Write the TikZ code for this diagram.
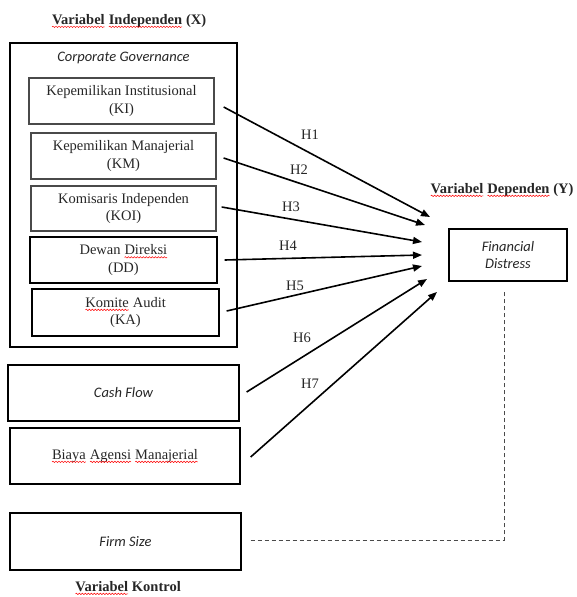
\documentclass[tikz,border=0pt]{standalone}
\usepackage{fontspec}
\setmainfont{Liberation Serif}
\newfontfamily\carl{Carlito}
\usetikzlibrary{arrows.meta,decorations.pathmorphing}
\definecolor{txt}{HTML}{262626}
\definecolor{gbord}{HTML}{4A4A4A}
\newcommand\wav[1]{\tikz[baseline=(wv.base)]{\node[shape=rectangle,draw=none,fill=none,inner sep=0pt,outer sep=0pt,minimum width=0pt,minimum height=0pt](wv){#1};\draw[red,line width=0.5pt,decorate,decoration={snake,amplitude=0.7pt,segment length=3pt}]([yshift=-2.6pt]wv.base west)--([yshift=-2.6pt]wv.base east);}}
\begin{document}
\begin{tikzpicture}[x=1pt,y=-1pt,
  fs/.style={font=\fontsize{14.5}{17.5}\selectfont},
  box/.style={fs,draw,line width=1.3pt,rectangle,align=center,text=txt,inner sep=2pt},
  gbox/.style={box,draw=gbord},
  ttl/.style={font=\fontsize{14.5}{17.5}\selectfont\bfseries,text=txt,inner sep=0pt},
  itl/.style={font=\fontsize{14.5}{17.5}\selectfont\carl\itshape},
  arr/.style={line width=1.6pt,-{Triangle[length=9pt,width=7pt]}},
  hl/.style={fs,text=txt,inner sep=0pt},
  dsh/.style={line width=0.9pt,dash pattern=on 4pt off 3pt,draw=gbord}]
\useasboundingbox (0,0) rectangle (576,597);
% titles
\node[ttl] (tX) at (129,21) {\wav{Variabel} \wav{Independen} (X)};
\node[ttl] (tY) at (502,190) {\wav{Variabel} \wav{Dependen} (Y)};
\node[ttl] (tK) at (128,588) {\wav{Variabel} Kontrol};
% corporate governance group
\node[box,minimum width=227pt,minimum height=304pt] (outer) at (123.5,195) {};
\node[hl,itl] (cg) at (123.5,58) {Corporate Governance};
\node[gbox,minimum width=185pt,minimum height=46pt] (ki) at (121.5,101) {Kepemilikan Institusional\\(KI)};
\node[gbox,minimum width=185pt,minimum height=46pt] (km) at (123.5,156) {Kepemilikan Manajerial\\(KM)};
\node[gbox,minimum width=185pt,minimum height=45pt] (koi) at (123.5,208.5) {Komisaris Independen\\(KOI)};
\node[box,minimum width=187pt,minimum height=46pt] (dd) at (123.5,260) {Dewan \wav{Direksi}\\(DD)};
\node[box,minimum width=187pt,minimum height=47pt] (ka) at (125.5,312.5) {\wav{Komite} Audit\\(KA)};
% other independents
\node[box,itl,minimum width=231pt,minimum height=56pt] (cf) at (123.5,393) {Cash Flow};
\node[box,minimum width=230pt,minimum height=56pt] (ba) at (125,456) {\wav{Biaya} \wav{Agensi} \wav{Manajerial}};
\node[box,itl,minimum width=231pt,minimum height=57pt] (fsz) at (125.5,541.5) {Firm Size};
% dependent
\node[box,itl,minimum width=118pt,minimum height=52pt] (fd) at (508,255) {Financial\\Distress};
% arrow ends
\coordinate (e1) at (430,217);
\coordinate (e2) at (425,225);
\coordinate (e3) at (422,242);
\coordinate (e4) at (422,255);
\coordinate (e5) at (422,266);
\coordinate (e6) at (427,279);
\coordinate (e7) at (437,292);
\coordinate (fdb) at (504,292);
\draw[arr] ([shift={(9,6)}]ki.east) -- (e1);
\draw[arr] ([shift={(7,2)}]km.east) -- (e2);
\draw[arr] ([shift={(5,-1.5)}]koi.east) -- (e3);
\draw[arr] ([shift={(7,0)}]dd.east) -- (e4);
\draw[arr] ([shift={(7,-1.5)}]ka.east) -- (e5);
\draw[arr] ([shift={(7,-1)}]cf.east) -- (e6);
\draw[arr] ([shift={(10,1)}]ba.east) -- (e7);
\draw[dsh] ([shift={(9,-1.5)}]fsz.east) -| (fdb);
% hypothesis labels
\node[hl] (h1) at (310,135) {H1};
\node[hl] (h2) at (299,170) {H2};
\node[hl] (h3) at (291,207) {H3};
\node[hl] (h4) at (288,246) {H4};
\node[hl] (h5) at (295,286) {H5};
\node[hl] (h6) at (302,338) {H6};
\node[hl] (h7) at (310,384) {H7};
\end{tikzpicture}
\end{document}
